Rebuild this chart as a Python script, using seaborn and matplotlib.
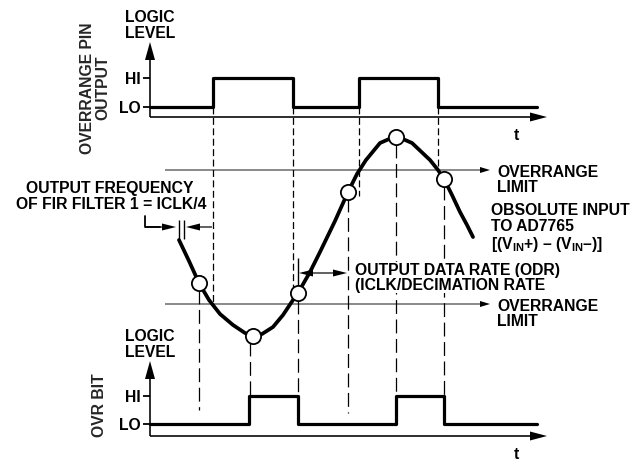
import matplotlib
matplotlib.use("Agg")
import matplotlib.pyplot as plt
import seaborn as sns

# valores (unidades: tempo ~ px em x, nível ~ px em y, eixo y invertido)
curve_t = [179, 189, 199, 209, 220, 233, 245, 253, 262, 273, 283, 293, 298, 310,
           320, 335, 348, 357, 366, 380, 396, 412, 430, 438, 444, 452, 460, 467, 473]
curve_v = [240, 261, 283, 300, 314, 325, 333, 336, 334, 327, 315, 300, 293, 272,
           252, 221, 192, 174, 160, 143, 136, 143, 160, 170, 179, 195, 212, 225, 237]

sample_t = [199, 253, 298, 348, 396, 444]
sample_v = [283, 336, 293, 192, 137, 179]

limit_hi = 170
limit_lo = 304

# saída do pino de overrange (nível lógico em cada borda)
pin_t = [150, 213, 293, 359, 438, 537]
pin_lvl = [0, 1, 0, 1, 0, 0]
# bit OVR
ovr_t = [150, 249, 298, 396, 444, 537]
ovr_lvl = [0, 1, 0, 1, 0, 0]

# linhas tracejadas (x, y inicial, y final)
dash_short = [(213, 107, 304), (293, 107, 287), (359, 107, 196), (438, 107, 168)]
dash_long = [(199, 290, 410), (250, 342, 396), (298, 300, 423),
             (348, 198, 413), (396, 144, 396), (444, 186, 396)]

sns.set_style("white")
plt.rcParams["font.family"] = ["Liberation Sans", "DejaVu Sans"]
plt.rcParams["font.weight"] = "bold"
plt.rcParams["mathtext.fontset"] = "custom"
plt.rcParams["mathtext.rm"] = "Liberation Sans:bold"
plt.rcParams["mathtext.bf"] = "Liberation Sans:bold"
plt.rcParams["mathtext.default"] = "bf"
plt.rcParams["lines.scale_dashes"] = False

fig = plt.figure(figsize=(6.4, 4.61), dpi=100)
ax = fig.add_axes([0, 0, 1, 1])
ax.set_xlim(0, 640)
ax.set_ylim(461, 0)
ax.axis("off")

FS = 11.3
K = "black"


def txt(x, y, s, ha="left", **kw):
    # y = centro das maiúsculas
    ax.text(x, y + 5.6, s, ha=ha, va="baseline", fontsize=FS, fontweight="bold", color=K, **kw)


def panel(base, hi, lo, t, lvl):
    top = base - 75
    ax.arrow(150, base, 0, top - base, width=1.6, head_width=10, head_length=18,
             length_includes_head=True, fc=K, ec=K, lw=0)
    ax.arrow(150, base, 397, 0, width=1.6, head_width=9, head_length=17,
             length_includes_head=True, fc=K, ec=K, lw=0)
    ax.hlines([hi, lo], 143, 150, color=K, lw=1.3)
    y = [lo if v == 0 else hi for v in lvl]
    sns.lineplot(x=t, y=y, sort=False, estimator=None, drawstyle="steps-post",
                 color=K, linewidth=2.3, ax=ax)
    txt(141, hi, "HI", ha="right")
    txt(141, lo, "LO", ha="right")
    txt(516, base + 17, "t", ha="center")
    txt(150, top - 26, "LOGIC", ha="center")
    txt(150, top - 10, "LEVEL", ha="center")


panel(117, 78, 107, pin_t, pin_lvl)
panel(436, 396, 424, ovr_t, ovr_lvl)

ax.text(87.5, 88, "OVERRANGE PIN", rotation=90, ha="center", va="center",
        fontsize=FS, fontweight="bold")
ax.text(102.5, 88, "OUTPUT", rotation=90, ha="center", va="center",
        fontsize=FS, fontweight="bold")
ax.text(99.5, 405, "OVR BIT", rotation=90, ha="center", va="center",
        fontsize=FS, fontweight="bold")

# tracejadas
for x, y0, y1 in dash_short:
    ax.vlines(x, y0, y1, color=K, lw=0.9, linestyles=[(0, (5, 2.5))])
for x, y0, y1 in dash_long:
    ax.vlines(x, y0, y1, color=K, lw=0.9, linestyles=[(0, (10, 4))])

# limites de overrange
for lim in (limit_hi, limit_lo):
    ax.arrow(165, lim, 325, 0, width=0.9, head_width=6, head_length=10,
             length_includes_head=True, fc=K, ec=K, lw=0)
    txt(497, lim + 1, "OVERRANGE")
    txt(497, lim + 16, "LIMIT")

# sinal de entrada
sns.lineplot(x=curve_t, y=curve_v, sort=False, estimator=None, color=K,
             linewidth=2.7, ax=ax, zorder=4)
sns.scatterplot(x=sample_t, y=sample_v, s=120, facecolor="white", edgecolor=K,
                linewidth=1.3, ax=ax, zorder=5)

txt(491, 209, "OBSOLUTE INPUT")
txt(491, 225, "TO AD7765")
txt(491, 243, r"[(V$_{IN}$+) – (V$_{IN}$–)]")

# frequência do FIR
ax.plot([145, 145, 160], [216, 227, 227], color=K, lw=1.3)
ax.arrow(145, 227, 31, 0, width=1.2, head_width=7, head_length=14,
         length_includes_head=True, fc=K, ec=K, lw=0)
ax.arrow(212, 227, -26, 0, width=1.2, head_width=7, head_length=14,
         length_includes_head=True, fc=K, ec=K, lw=0)
ax.vlines([179, 184], 220, 239, color=K, lw=1.0)
txt(110, 187, "OUTPUT FREQUENCY", ha="center")
txt(111, 203, "OF FIR FILTER 1 = ICLK/4", ha="center")

# ODR
ax.vlines(298, 258, 286, color=K, lw=1.0)
for x_end in (299, 347):
    ax.arrow(323, 273, x_end - 323, 0, width=1.2, head_width=7, head_length=14,
             length_includes_head=True, fc=K, ec=K, lw=0)
bb = dict(facecolor="white", edgecolor="none", pad=0.5)
txt(355, 269, "OUTPUT DATA RATE (ODR)", bbox=bb, zorder=6)
txt(355, 284, "(ICLK/DECIMATION RATE", bbox=bb, zorder=6)

fig.savefig("out.png", dpi=100)
